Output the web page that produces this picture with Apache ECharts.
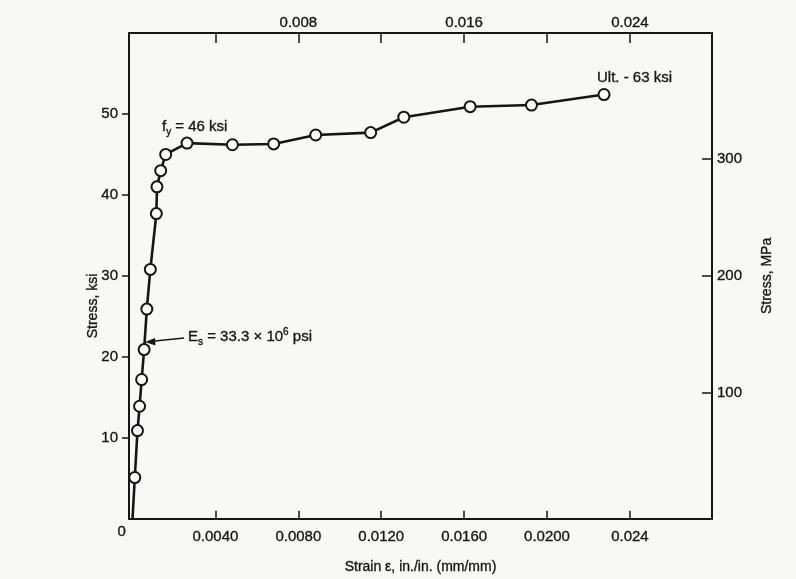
<!DOCTYPE html>
<html>
<head>
<meta charset="utf-8">
<script src="https://cdn.jsdelivr.net/npm/echarts@6/dist/echarts.min.js"></script>
<style>
  html, body { margin: 0; padding: 0; background: #f8f8f7; }
  #chart { width: 796px; height: 579px; }
</style>
</head>
<body>
<div id="chart"></div>
<script>
// Stress-strain curve of the steel wire (strain in in./in., stress in ksi)
const strain = [0, 0.00011, 0.00024, 0.00034, 0.00044, 0.00056, 0.00069, 0.00086, 0.00115, 0.00118,
                0.00136, 0.0016, 0.00263, 0.00482, 0.00681, 0.00884, 0.01149, 0.01309, 0.01629,
                0.01925, 0.02275];
const stressKsi = [0, 5.1, 10.9, 13.9, 17.2, 20.9, 25.9, 30.8, 37.7, 41.0,
                   43.0, 45.0, 46.4, 46.2, 46.3, 47.4, 47.7, 49.6, 50.9,
                   51.1, 52.4];

// Axis ticks and their labels
const bottomTicks = [0.004, 0.008, 0.012, 0.016, 0.020, 0.024];
const bottomTickLabels = ['0.0040', '0.0080', '0.0120', '0.0160', '0.0200', '0.024'];
const topTicks = [0.004, 0.008, 0.012, 0.016, 0.020, 0.024];
const topLabelValues = [0.008, 0.016, 0.024];
const topTickLabels = ['0.008', '0.016', '0.024'];
const ksiTicks = [10, 20, 30, 40, 50];
const mpaTicks = [100, 200, 300];

const FONT = "'Liberation Sans', Arial, Helvetica, sans-serif";
const INK = '#161616';
// a thin outline in the ink colour gives the printed, slightly heavy type
const HEAVY = { textBorderColor: INK, textBorderWidth: 0.35 };

function lookup(values, labels) {
  return function (v) {
    const i = values.findIndex(t => Math.abs(t - v) < 1e-9);
    return i >= 0 ? labels[i] : '';
  };
}

const chart = echarts.init(document.getElementById('chart'), null, { renderer: 'canvas' });

const lineStyle = { color: INK, width: 2 };
const tickStyle = { color: INK, width: 1.5 };
const labelStyle = Object.assign({ fontSize: 15, fontFamily: FONT, color: INK }, HEAVY);

const option = {
  animation: false,
  backgroundColor: '#f8f8f7',
  grid: { left: 129, right: 84, top: 33, bottom: 50, containLabel: false },
  xAxis: [
    {
      type: 'value', position: 'bottom', min: -0.00017, max: 0.02796,
      axisLine: { show: true, onZero: false, lineStyle },
      axisTick: { show: true, inside: true, length: 8, customValues: bottomTicks, lineStyle: tickStyle },
      axisLabel: Object.assign({ show: true, customValues: bottomTicks,
                   formatter: lookup(bottomTicks, bottomTickLabels), margin: 11 }, labelStyle),
      splitLine: { show: false },
      name: 'Strain \u03b5, in./in. (mm/mm)', nameLocation: 'middle', nameGap: 41,
      nameTextStyle: Object.assign({ fontSize: 14, fontFamily: FONT, color: INK }, HEAVY)
    },
    {
      type: 'value', position: 'top', min: -0.00017, max: 0.02796,
      axisLine: { show: true, onZero: false, lineStyle },
      axisTick: { show: true, inside: true, length: 10, customValues: topTicks, lineStyle: tickStyle },
      axisLabel: Object.assign({ show: true, customValues: topLabelValues,
                   formatter: lookup(topLabelValues, topTickLabels), margin: 3 }, labelStyle),
      splitLine: { show: false }
    }
  ],
  yAxis: [
    {
      type: 'value', position: 'left', min: 0, max: 60,
      axisLine: { show: true, onZero: false, lineStyle },
      axisTick: { show: true, inside: false, length: 7, customValues: ksiTicks, lineStyle: tickStyle },
      axisLabel: Object.assign({ show: true, customValues: ksiTicks, margin: 11 }, labelStyle),
      splitLine: { show: false }
    },
    {
      type: 'value', position: 'right', min: -7.8, max: 408,
      axisLine: { show: true, onZero: false, lineStyle },
      axisTick: { show: true, inside: true, length: 10, customValues: mpaTicks, lineStyle: tickStyle },
      axisLabel: Object.assign({ show: true, customValues: mpaTicks, margin: 5 }, labelStyle),
      splitLine: { show: false },
      name: 'Stress, MPa', nameLocation: 'middle', nameGap: 48, nameRotate: 90,
      nameTextStyle: Object.assign({ fontSize: 14, fontFamily: FONT, color: INK }, HEAVY)
    }
  ],
  series: [
    {
      type: 'line',
      xAxisIndex: 0, yAxisIndex: 0,
      showAllSymbol: true,
      symbol: 'circle', symbolSize: 11,
      lineStyle: { color: INK, width: 2.6 },
      itemStyle: { color: '#ffffff', borderColor: INK, borderWidth: 2 },
      data: strain.map((s, i) => (i === 0
        ? { value: [s, stressKsi[i]], symbol: 'none' }
        : [s, stressKsi[i]])),
      z: 3
    }
  ]
};

chart.setOption(option);

// Annotation text built from pieces so subscripts and superscripts sit right
const measureCtx = document.createElement('canvas').getContext('2d');
function textWidth(t, size) {
  measureCtx.font = size + 'px ' + FONT;
  return measureCtx.measureText(t).width;
}
function pieces(x, yMid, parts) {
  const out = [];
  let cx = x;
  parts.forEach(p => {
    const size = p.size || 15;
    out.push({
      type: 'text', x: cx, y: yMid + (p.dy || 0), z: 10,
      style: Object.assign({ text: p.t, fontSize: size, fontFamily: FONT, fill: INK,
                             align: 'left', verticalAlign: 'middle' },
                           { stroke: INK, lineWidth: 0.35 })
    });
    cx += textWidth(p.t, size);
  });
  return out;
}

const origin = chart.convertToPixel({ xAxisIndex: 0, yAxisIndex: 0 }, [0, 0]);

const graphics = []
  .concat(pieces(origin[0] - 15, origin[1] + 13, [{ t: '0' }]))
  .concat(pieces(162, 127, [{ t: 'f' }, { t: 'y', size: 10, dy: 5 }, { t: ' = 46 ksi' }]))
  .concat(pieces(597, 78, [{ t: 'Ult. - 63 ksi' }]))
  .concat(pieces(188, 337, [{ t: 'E' }, { t: 's', size: 10, dy: 5 }, { t: ' = 33.3 \u00d7 10' },
                            { t: '6', size: 10, dy: -5 }, { t: ' psi' }]));

// Left axis title, set a little below the middle of the axis
graphics.push({
  type: 'text', x: 93, y: 306, rotation: Math.PI / 2, z: 10,
  style: { text: 'Stress, ksi', fontSize: 14, fontFamily: FONT, fill: INK,
           stroke: INK, lineWidth: 0.35, align: 'center', verticalAlign: 'middle' }
});

// Arrow pointing from the modulus label to the elastic branch
graphics.push({
  type: 'line', z: 10,
  shape: { x1: 184, y1: 338, x2: 150, y2: 341.5 },
  style: { stroke: INK, lineWidth: 1.5 }
});
graphics.push({
  type: 'polygon', z: 10,
  shape: { points: [[145, 342], [155, 338], [155.5, 345.5]] },
  style: { fill: INK }
});

chart.setOption({ graphic: graphics });
</script>
</body>
</html>
